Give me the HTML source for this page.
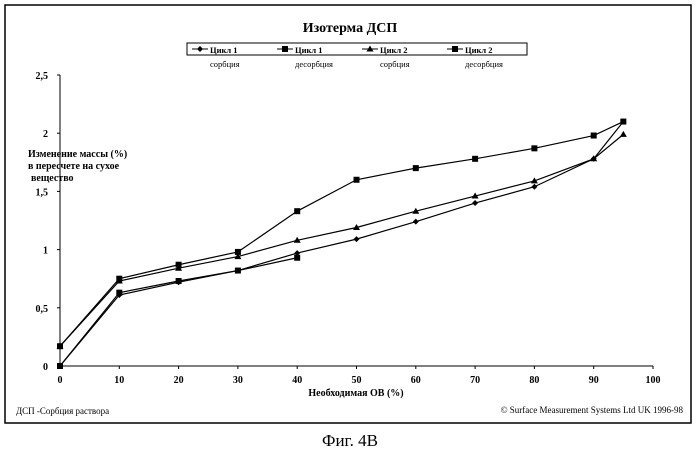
<!DOCTYPE html>
<html><head><meta charset="utf-8"><style>
body{margin:0;background:#fff;width:699px;height:450px;overflow:hidden}
svg text{font-family:"Liberation Serif",serif;fill:#000}
</style></head><body>
<svg width="699" height="450">
<rect x="5" y="5" width="686" height="418" fill="none" stroke="#000" stroke-width="1.5"/>
<text x="350" y="32" text-anchor="middle" font-size="14" font-weight="bold">Изотерма ДСП</text>
<g id="legend"><rect x="187" y="43" width="340" height="12" fill="none" stroke="#000"/></g>
<g id="axes"></g>
<g id="plot"></g>
<text x="28" y="157" font-size="10" font-weight="bold"><tspan x="28">Изменение массы (%)</tspan><tspan x="28" dy="12">в пересчете на сухое</tspan><tspan x="31" dy="12">вещество</tspan></text>
<text x="356" y="396" text-anchor="middle" font-size="10" font-weight="bold">Необходимая ОВ (%)</text>
<text x="16" y="414" font-size="9">ДСП -Сорбция раствора</text>
<text x="683" y="413" text-anchor="end" font-size="9">© Surface Measurement Systems Ltd UK 1996-98</text>
<text x="350" y="446" text-anchor="middle" font-size="17">Фиг. 4В</text>
</svg>
<script>
const xTicks=[0,10,20,30,40,50,60,70,80,90,100];
const yTicks=[0,0.5,1,1.5,2,2.5];
const yTickLabels=["0","0,5","1","1,5","2","2,5"];
const c1sX=[0,10,20,30,40,50,60,70,80,90,95];
const c1sY=[0,0.61,0.72,0.82,0.97,1.09,1.24,1.40,1.54,1.78,2.10];
const c1dX=[95,90,80,70,60,50,40,30,20,10,0];
const c1dY=[2.10,1.98,1.87,1.78,1.70,1.60,1.33,0.98,0.87,0.75,0.17];
const c2sX=[0,10,20,30,40,50,60,70,80,90,95];
const c2sY=[0.17,0.73,0.84,0.94,1.08,1.19,1.33,1.46,1.59,1.78,1.99];
const c2dX=[40,30,20,10,0];
const c2dY=[0.93,0.82,0.73,0.63,0];
const legendLabels=[["Цикл 1","сорбция"],["Цикл 1","десорбция"],["Цикл 2","сорбция"],["Цикл 2","десорбция"]];
const NS="http://www.w3.org/2000/svg";
const sx=v=>60+v*5.93, sy=v=>366-v*116.4;
function mk(p,t,a){const e=document.createElementNS(NS,t);for(const k in a)e.setAttribute(k,a[k]);p.appendChild(e);return e;}
const axes=document.getElementById('axes'),plot=document.getElementById('plot'),leg=document.getElementById('legend');
let ax=mk(axes,'line',{x1:sx(0),y1:sy(0),x2:sx(100),y2:sy(0),stroke:'#000'});


ax=mk(axes,'line',{x1:sx(0),y1:sy(0),x2:sx(0),y2:sy(2.5),stroke:'#000'});


xTicks.forEach(t=>{mk(axes,'line',{x1:sx(t),y1:sy(0),x2:sx(t),y2:sy(0)+3,stroke:'#000'});
const e=mk(axes,'text',{x:sx(t),y:sy(0)+17,'text-anchor':'middle','font-size':10,'font-weight':'bold'});e.textContent=t;

});
yTicks.forEach((t,i)=>{mk(axes,'line',{x1:sx(0)-3,y1:sy(t),x2:sx(0),y2:sy(t),stroke:'#000'});
const e=mk(axes,'text',{x:sx(0)-12,y:sy(t)+4,'text-anchor':'end','font-size':10,'font-weight':'bold'});e.textContent=yTickLabels[i];

});
function marker(g,x,y,k){
 if(k=='d')mk(g,'polygon',{points:`${x},${y-3} ${x+3},${y} ${x},${y+3} ${x-3},${y}`,fill:'#000'});
 else if(k=='s')mk(g,'rect',{x:x-3,y:y-3,width:6,height:6,fill:'#000'});
 else mk(g,'polygon',{points:`${x},${y-3.5} ${x+3.5},${y+2.5} ${x-3.5},${y+2.5}`,fill:'#000'});
}
function series(X,Y,k,name){const g=mk(plot,'g',{});


mk(g,'polyline',{points:X.map((x,i)=>sx(x)+','+sy(Y[i])).join(' '),fill:'none',stroke:'#000','stroke-width':1.2});
X.forEach((x,i)=>marker(g,sx(x),sy(Y[i]),k));}
series(c1sX,c1sY,'d','series-cycle1-sorption');
series(c2sX,c2sY,'t','series-cycle2-sorption');
series(c2dX,c2dY,'s','series-cycle2-desorption');
series(c1dX,c1dY,'s','series-cycle1-desorption');
const kinds=['d','s','t','s'];
legendLabels.forEach((l,i)=>{const x0=192+i*85;const g=mk(leg,'g',{});


mk(g,'line',{x1:x0,y1:49,x2:x0+16,y2:49,stroke:'#000'});marker(g,x0+8,49,kinds[i]);
let t=mk(g,'text',{x:x0+18,y:53,'font-size':8.5,'font-weight':'bold'});t.textContent=l[0];
t=mk(g,'text',{x:x0+18,y:67,'font-size':8.5});t.textContent=l[1];});
</script>
</body></html>
